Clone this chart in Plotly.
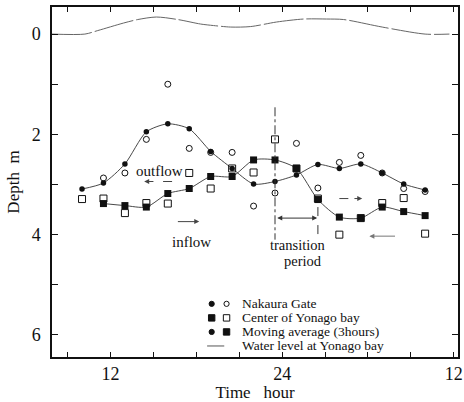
import plotly.graph_objects as go

# ---------------- data ----------------
hours = [10, 11.5, 13, 14.5, 16, 17.5, 19, 20.5, 22, 23.5, 25, 26.5, 28, 29.5, 31, 32.5, 34]
nakaura = [None, 2.87, 2.77, 2.10, 1.00, 2.28, 2.36, 2.36, 3.43, 3.17, 2.18, 3.07, 2.56, 2.42, 2.77, 3.08, 3.14]
nakaura_ma = [3.09, 2.97, 2.59, 1.95, 1.79, 1.89, 2.34, 2.68, 2.99, 2.94, 2.81, 2.60, 2.68, 2.59, 2.77, 2.99, 3.11]
center = [3.29, 3.28, 3.57, 3.37, 3.38, 2.77, 3.08, 2.68, 2.76, 2.10, 2.68, 3.28, 4.00, 3.67, 3.37, 3.27, 3.98]
center_ma = [None, 3.38, 3.42, 3.45, 3.18, 3.08, 2.84, 2.84, 2.51, 2.51, 2.68, 3.30, 3.65, 3.67, 3.45, 3.54, 3.62]

wl_hours = [7.9, 10.2, 11.1, 12.9, 13.9, 15.2, 16.7, 18.3, 19.2, 20.4, 21.8, 23.6, 25.5, 27.1, 28.3, 31.0, 34.0, 35.7]
wl_depth = [0.0, 0.0, -0.07, -0.22, -0.29, -0.34, -0.29, -0.20, -0.17, -0.14, -0.15, -0.24, -0.30, -0.30, -0.29, -0.14, 0.0, 0.0]

x_tickvals = [9, 12, 15, 18, 21, 24, 27, 30, 33, 36]
x_ticktext = ["", "12", "", "", "", "24", "", "", "", "12"]
y_tickvals = [0, 1, 2, 3, 4, 5, 6]
y_ticktext = ["0", "", "2", "", "4", "", "6"]

legend_labels = ["Nakaura Gate", "Center of Yonago bay", "Moving average (3hours)", "Water level at Yonago bay"]

FONT = "Liberation Serif"
INK = "#111"

fig = go.Figure()

# water level
fig.add_trace(go.Scatter(x=wl_hours, y=wl_depth, mode="lines",
                         line=dict(color="#666", width=1, dash="40px,3px", shape="spline", smoothing=0.8),
                         showlegend=False, hoverinfo="skip"))
# moving averages
fig.add_trace(go.Scatter(x=hours, y=nakaura_ma, mode="lines+markers",
                         line=dict(color="#333", width=0.9, shape="spline", smoothing=0.7),
                         marker=dict(symbol="circle", size=5.5, color=INK),
                         connectgaps=True, showlegend=False))
fig.add_trace(go.Scatter(x=hours, y=center_ma, mode="lines+markers",
                         line=dict(color="#333", width=0.9, shape="spline", smoothing=0.7),
                         marker=dict(symbol="square", size=7, color=INK),
                         showlegend=False))
# raw observations
fig.add_trace(go.Scatter(x=hours, y=nakaura, mode="markers",
                         marker=dict(symbol="circle-open", size=6, color=INK, line=dict(width=1, color=INK)),
                         showlegend=False))
fig.add_trace(go.Scatter(x=hours, y=center, mode="markers",
                         marker=dict(symbol="square-open", size=7, color=INK, line=dict(width=1, color=INK)),
                         showlegend=False))

shapes = []
annotations = []

def arrow(xh, yh, xt, yt, color=INK, side="end"):
    annotations.append(dict(x=xh, y=yh, ax=xt, ay=yt, xref="x", yref="y", axref="x", ayref="y",
                            text="", showarrow=True, arrowhead=2, arrowsize=1, arrowwidth=1,
                            arrowcolor=color, arrowside=side, standoff=0, startstandoff=0))

def text(x, y, s, size=15, anchor="center"):
    annotations.append(dict(x=x, y=y, xref="x", yref="y", text=s, showarrow=False,
                            xanchor=anchor, yanchor="middle", borderpad=0,
                            font=dict(family=FONT, size=size, color=INK)))

def line(x0, y0, x1, y1, dash="solid", color=INK):
    shapes.append(dict(type="line", xref="x", yref="y", x0=x0, y0=y0, x1=x1, y1=y1,
                       line=dict(color=color, width=1, dash=dash)))

# outflow / inflow
text(15.4, 2.74, "outflow")
line(16.3, 2.94, 15.1, 2.94, dash="dash", color="#444")
arrow(14.35, 2.94, 15.1, 2.94, color="#444")
text(17.65, 4.15, "inflow")
arrow(18.2, 3.74, 16.6, 3.74, color="#444")

# right side arrows
line(28.0, 3.28, 28.95, 3.28, dash="dash", color="#444")
arrow(29.6, 3.28, 28.95, 3.28, color="#444")
arrow(30.1, 4.03, 32.0, 4.03, color="#777")

# transition period
line(23.5, 1.46, 23.5, 4.1, dash="dashdot", color="#333")
line(26.5, 3.45, 26.5, 4.1, dash="dash", color="#333")
arrow(26.45, 3.67, 23.55, 3.67, color="#333", side="end+start")
text(25.1, 4.21, "transition", size=14.5)
text(25.45, 4.52, "period", size=14.5)

# custom legend
leg_x1, leg_x2, leg_tx = 19.07, 20.11, 21.15
leg_rows = [5.38, 5.66, 5.94, 6.22]

def pix_marker(kind, x, y, filled, r):
    shapes.append(dict(type=kind, xref="x", yref="y", xsizemode="pixel", ysizemode="pixel",
                       xanchor=x, yanchor=y, x0=-r, x1=r, y0=-r, y1=r,
                       line=dict(color=INK, width=1), fillcolor=INK if filled else "rgba(0,0,0,0)"))

pix_marker("circle", leg_x1, leg_rows[0], True, 2.6)
pix_marker("circle", leg_x2, leg_rows[0], False, 2.6)
pix_marker("rect", leg_x1, leg_rows[1], True, 3.2)
pix_marker("rect", leg_x2, leg_rows[1], False, 3.2)
pix_marker("circle", leg_x1, leg_rows[2], True, 2.6)
pix_marker("rect", leg_x2, leg_rows[2], True, 3.2)
line(18.75, leg_rows[3], 19.95, leg_rows[3], color="#555")
for lab, yy in zip(legend_labels, leg_rows):
    text(leg_tx, yy, lab, size=13.5, anchor="left")

fig.update_layout(
    width=464, height=402,
    margin=dict(l=52, r=6, t=7, b=45, autoexpand=False),
    paper_bgcolor="white", plot_bgcolor="white",
    font=dict(family=FONT, color=INK),
    shapes=shapes, annotations=annotations,
    showlegend=False,
    xaxis=dict(range=[7.9, 36.3], tickvals=x_tickvals, ticktext=x_ticktext, automargin=False,
               ticklabeloverflow="allow",
               ticks="inside", ticklen=5, tickwidth=1, tickcolor=INK,
               showline=True, linecolor=INK, linewidth=1.5, mirror="ticks",
               showgrid=False, zeroline=False,
               tickfont=dict(family=FONT, size=18, color=INK),
               title=dict(text="Time\u00a0\u00a0\u00a0hour", font=dict(family=FONT, size=17, color=INK), standoff=2)),
    yaxis=dict(range=[6.44, -0.54], tickvals=y_tickvals, ticktext=y_ticktext, automargin=False,
               ticklabeloverflow="allow",
               ticks="inside", ticklen=6, tickwidth=1, tickcolor=INK,
               showline=True, linecolor=INK, linewidth=1.5, mirror="ticks",
               showgrid=False, zeroline=False, ticklabelstandoff=6,
               tickfont=dict(family=FONT, size=18, color=INK),
               title=dict(text="Depth\u00a0\u00a0m", font=dict(family=FONT, size=17, color=INK), standoff=8)),
)

fig.write_html("out.html")
